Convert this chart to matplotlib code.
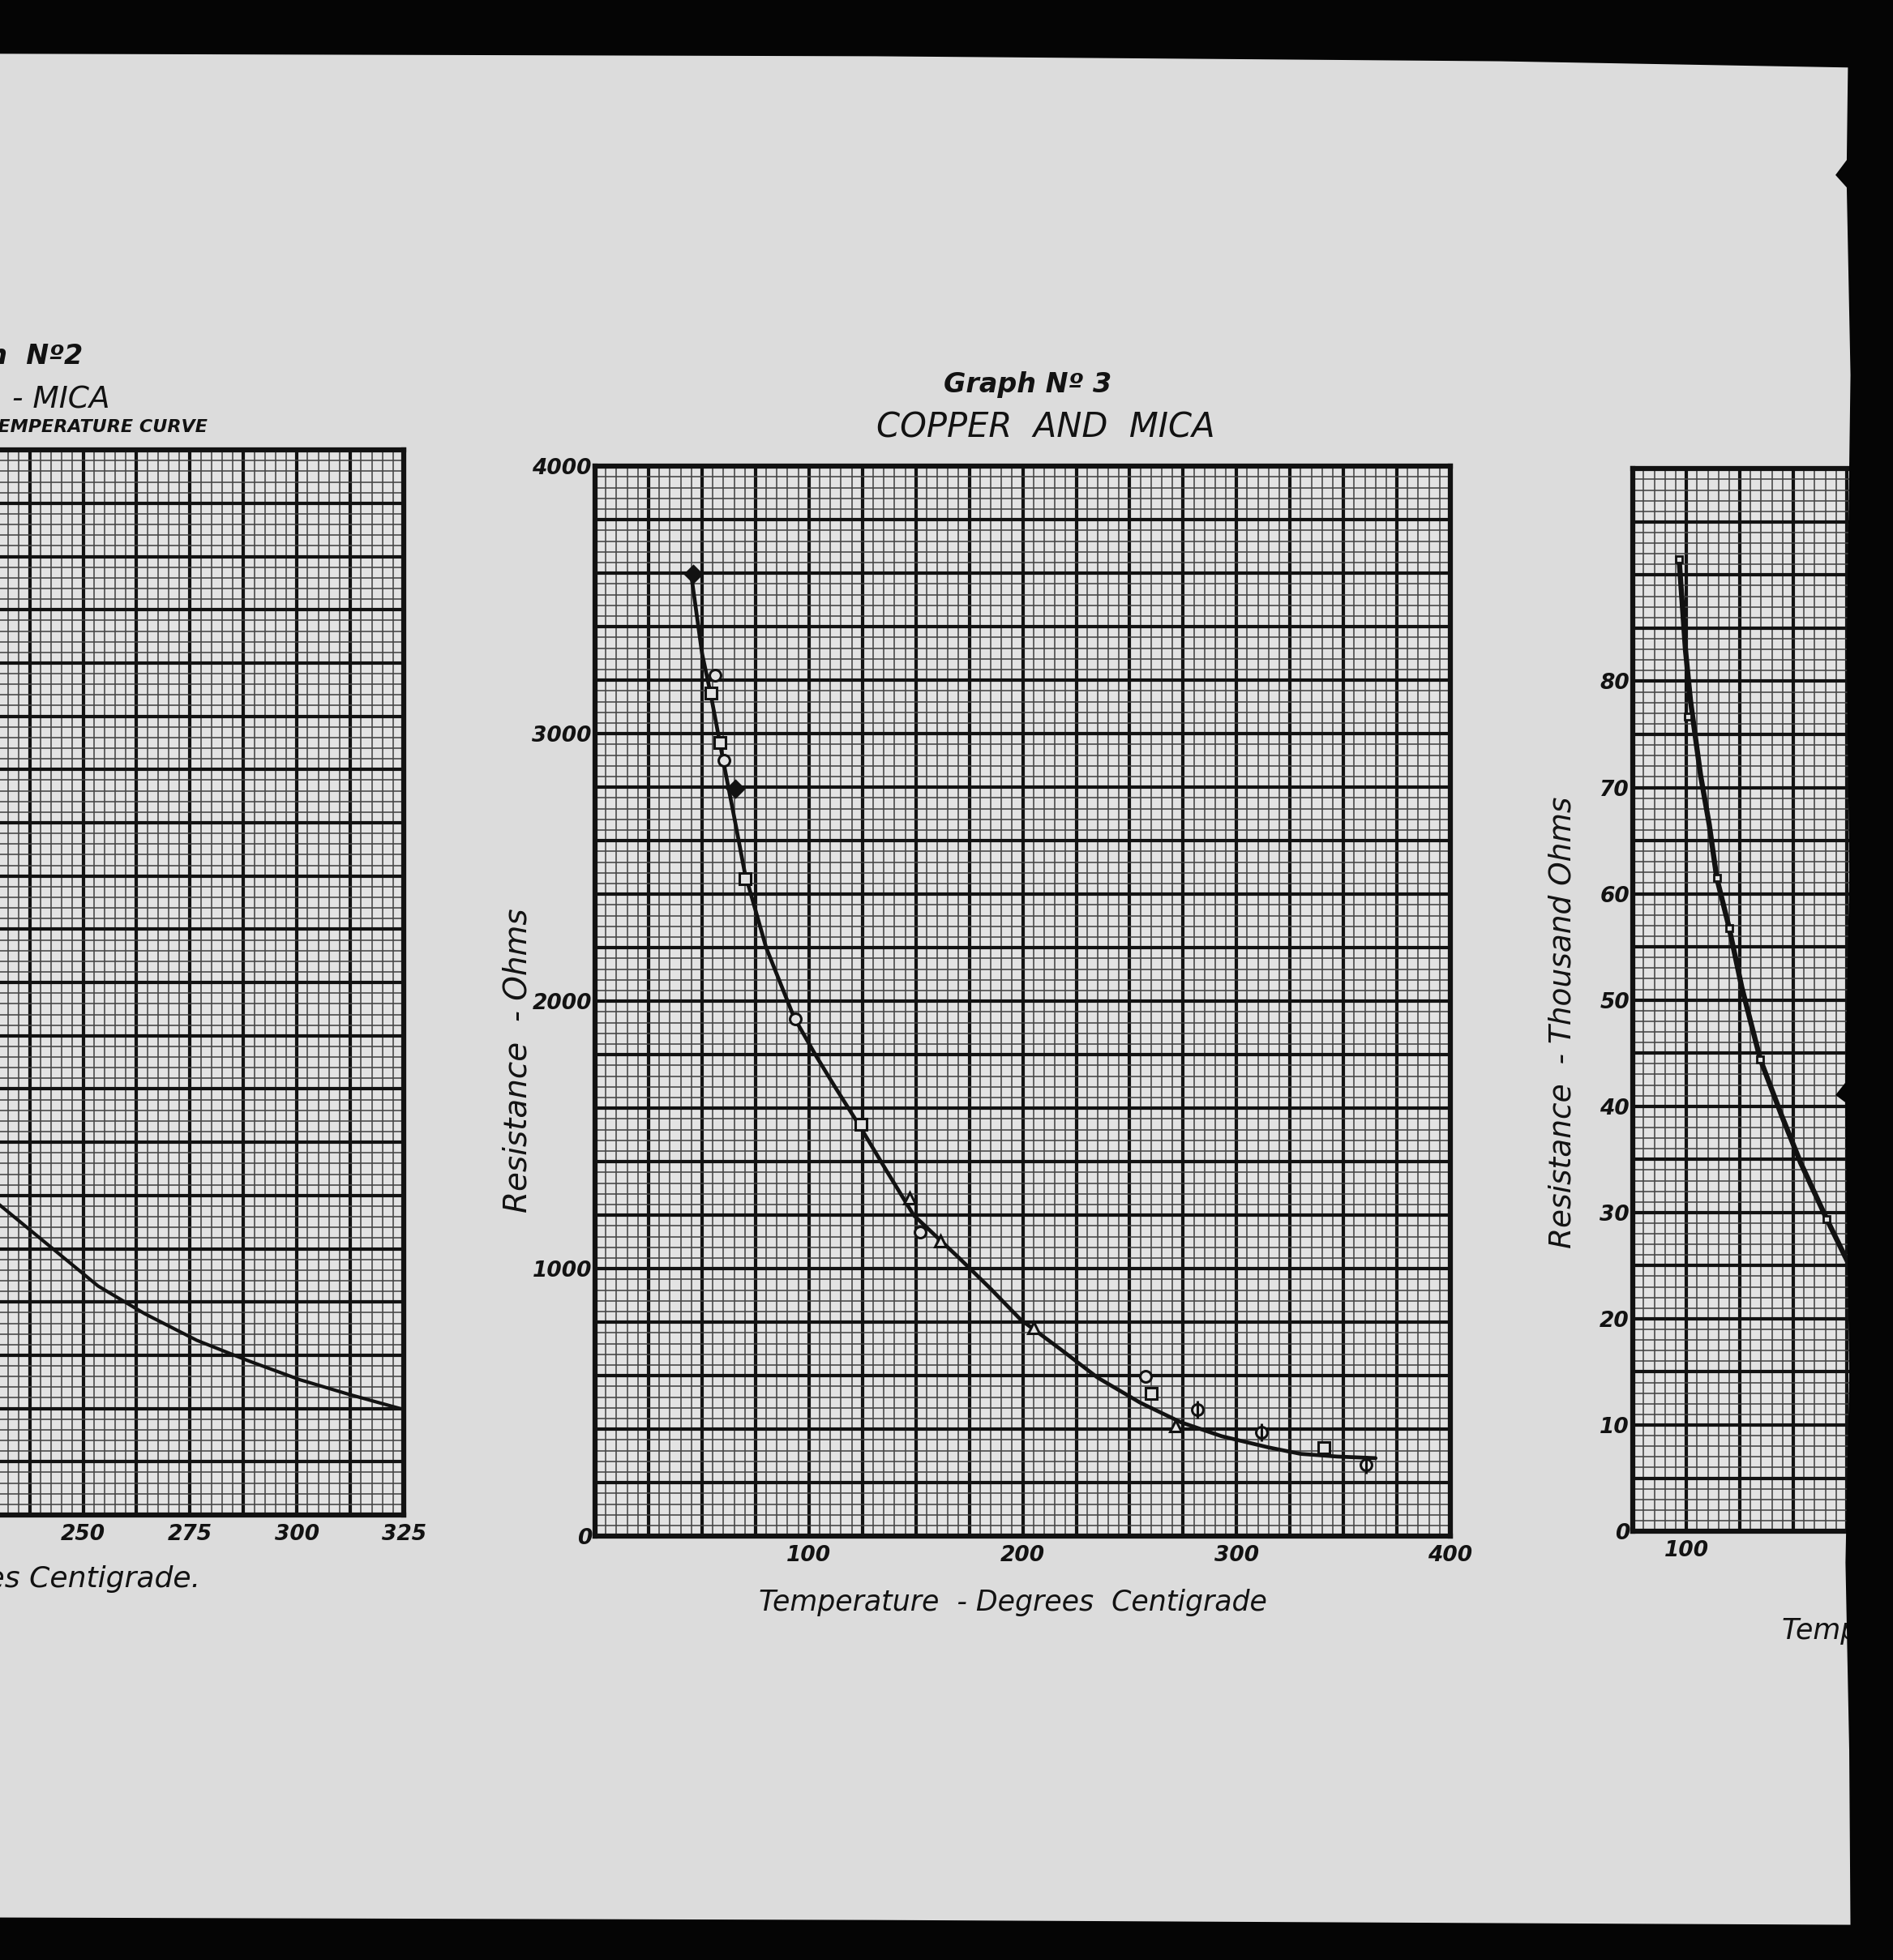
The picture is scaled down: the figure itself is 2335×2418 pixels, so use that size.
import numpy as np
import matplotlib
matplotlib.use("Agg")
import matplotlib.pyplot as plt
from matplotlib.ticker import MultipleLocator, FuncFormatter
from matplotlib.patches import Polygon

# positions below were measured on the 1514 x 1568 reduced copy of the scan
SW, SH = 1514, 1568

# ---------------- data ----------------
# Graph No 2 (only its right part is on the page)
g2_temp = [229, 241.7, 253.5, 264.4, 276.6, 288.5, 300.7, 312.4, 325]
g2_res = [29.6, 25.4, 21.5, 18.9, 16.4, 14.5, 12.7, 11.3, 9.9]
g2_xlabels = [225, 250, 275, 300, 325]

# Graph No 3 - copper and mica, resistance in ohms
g3_curve_temp = [45, 50, 54, 60, 65, 70, 80, 93, 103, 112, 124, 136, 149,
                 170, 185, 199, 218, 235, 255, 274, 293, 315, 330, 347, 365]
g3_curve_res = [3590, 3300, 3150, 2895, 2690, 2480, 2200, 1940, 1800, 1682,
                1530, 1370, 1200, 1042, 925, 810, 697, 593, 499, 426, 374,
                332, 308, 298, 292]
g3_diamond_t = [45.8, 65.7]
g3_diamond_r = [3598, 2795]
g3_square_t = [54, 58.5, 70.2, 124.2, 260, 341]
g3_square_r = [3152, 2966, 2458, 1541, 535, 331]
g3_circle_t = [56, 60.1, 93.6, 152, 257.6]
g3_circle_r = [3220, 2900, 1935, 1137, 598]
g3_tri_t = [147, 161.6, 205, 271.6]
g3_tri_r = [1263, 1105, 780, 414]
g3_theta_t = [281.8, 311.5, 360.6]
g3_theta_r = [472, 389, 268]
g3_xlabels = [100, 200, 300, 400]
g3_ylabels = [0, 1000, 2000, 3000, 4000]

# Graph No 4 (cut by the edge of the page), thousand ohms
g4_curve_temp = [96.6, 99.6, 101.9, 106.6, 110.7, 114.2, 120, 125.9, 134.6,
                 144.6, 153.4, 165.6, 175.6]
g4_curve_res = [91.5, 82.9, 78.2, 71.2, 66.5, 61.5, 56.8, 51.2, 44.4, 39.1,
                34.7, 29.4, 25.3]
g4_mark_t = [96.6, 100.7, 114.2, 120, 134.6, 165.6]
g4_mark_r = [91.5, 76.7, 61.5, 56.8, 44.4, 29.4]
g4_xlabels = [100]
g4_ylabels = [0, 10, 20, 30, 40, 50, 60, 70, 80]

PAGE = "#dcdcdc"
PAPER = "#e3e3e3"
INK = "#121212"

plt.rcParams["font.family"] = ["DejaVu Sans"]
plt.rcParams["font.style"] = "italic"
plt.rcParams["font.weight"] = "bold"

fig = plt.figure(figsize=(23.35, 24.18), dpi=100, facecolor=PAGE)


def rect(left, top, right, bottom):
    return [left / SW, 1 - bottom / SH, (right - left) / SW, (bottom - top) / SH]


def fx(x):
    return x / SW


def fy(y):
    return 1 - y / SH


def label_fmt(values, fmt="{:.0f}"):
    def f(v, pos):
        for w in values:
            if abs(v - w) < 1e-6:
                return fmt.format(w)
        return ""
    return FuncFormatter(f)


def graph_paper(ax, xlim, xstep, ylim, ystep, xlabels, ylabels):
    ax.set_facecolor(PAPER)
    ax.set_xlim(*xlim)
    ax.set_ylim(*ylim)
    ax.xaxis.set_major_locator(MultipleLocator(xstep))
    ax.xaxis.set_minor_locator(MultipleLocator(xstep / 5))
    ax.yaxis.set_major_locator(MultipleLocator(ystep))
    ax.yaxis.set_minor_locator(MultipleLocator(ystep / 5))
    ax.grid(which="minor", color="#454545", lw=1.15)
    ax.grid(which="major", color=INK, lw=3.0)
    ax.set_axisbelow(True)
    ax.xaxis.set_major_formatter(label_fmt(xlabels))
    ax.yaxis.set_major_formatter(label_fmt(ylabels))
    ax.tick_params(which="both", length=0, labelsize=19, colors=INK)
    ax.tick_params(axis="x", pad=8)
    ax.tick_params(axis="y", pad=3)
    for s in ax.spines.values():
        s.set_linewidth(4.5)
        s.set_color(INK)


# ---------------- Graph No 2 ----------------
ax2 = fig.add_axes(rect(323 - 684, 360, 323, 1212))
graph_paper(ax2, (125, 325), 12.5, (0, 100), 5, g2_xlabels, [])
ax2.plot(g2_temp, g2_res, color=INK, lw=3.0, solid_capstyle="round")

fig.text(fx(66), fy(285), "Graph  Nº2", ha="right", va="center", fontsize=24, color=INK)
fig.text(fx(88), fy(320), "- MICA", ha="right", va="center", fontsize=27,
         weight="normal", color=INK)
fig.text(fx(166), fy(342), "RESISTANCE - TEMPERATURE CURVE", ha="right", va="center",
         fontsize=16, color=INK)
fig.text(fx(160), fy(1263), "Temperature - Degrees Centigrade.", ha="right", va="center",
         fontsize=26, weight="normal", color=INK)

# ---------------- Graph No 3 ----------------
ax3 = fig.add_axes(rect(476, 373, 1160, 1229))
graph_paper(ax3, (0, 400), 25, (0, 4000), 200, g3_xlabels, g3_ylabels)
ax3.plot(g3_curve_temp, g3_curve_res, color=INK, lw=3.4, solid_capstyle="round", zorder=3)
mk = dict(ls="none", color=INK, ms=10, mew=2.2, zorder=4)
ax3.plot(g3_diamond_t, g3_diamond_r, marker="D", mfc=INK, **mk)
ax3.plot(g3_square_t, g3_square_r, marker="s", mfc=PAPER, **mk)
ax3.plot(g3_circle_t, g3_circle_r, marker="o", mfc=PAPER, **mk)
ax3.plot(g3_tri_t, g3_tri_r, marker="^", mfc=PAPER, **mk)
ax3.plot(g3_theta_t, g3_theta_r, marker="o", mfc=PAPER, **mk)
ax3.plot(g3_theta_t, g3_theta_r, marker="|", ls="none", color=INK, ms=16, mew=2.2, zorder=5)

fig.text(fx(822), fy(308), "Graph Nº 3", ha="center", va="center", fontsize=24, color=INK)
fig.text(fx(836), fy(342), "COPPER  AND  MICA", ha="center", va="center", fontsize=30,
         weight="normal", color=INK)
fig.text(fx(414), fy(848), "Resistance  - Ohms", rotation=90, ha="center", va="center",
         fontsize=28, weight="normal", color=INK)
fig.text(fx(810), fy(1282), "Temperature  - Degrees  Centigrade", ha="center", va="center",
         fontsize=25, weight="normal", color=INK)

# ---------------- Graph No 4 ----------------
ax4 = fig.add_axes(rect(1306, 375, 1306 + 684, 1225))
graph_paper(ax4, (75, 475), 25, (0, 100), 5, g4_xlabels, g4_ylabels)
ax4.plot(g4_curve_temp, g4_curve_res, color=INK, lw=4.6, solid_capstyle="round", zorder=3)
ax4.plot(g4_mark_t, g4_mark_r, marker="s", ls="none", color=INK, mfc=PAPER, ms=6, mew=2.0,
         zorder=4)

fig.text(fx(1250), fy(818), "Resistance  - Thousand Ohms", rotation=90, ha="center",
         va="center", fontsize=27, weight="normal", color=INK)
fig.text(fx(1425), fy(1305), "Temperature  - Degrees  Centigrade", ha="left", va="center",
         fontsize=25, weight="normal", color=INK)

# ---------------- dark surround of the scanned sheet ----------------
def black(points):
    pts = [(fx(x), fy(y)) for x, y in points]
    fig.add_artist(Polygon(pts, closed=True, transform=fig.transFigure,
                           fc="#050505", ec="none", zorder=50))


black([(0, 0), (1514, 0), (1514, 56), (1478, 54), (1200, 49), (700, 45), (0, 43)])
black([(0, 1534), (700, 1536), (1300, 1539), (1514, 1540), (1514, 1568), (0, 1568)])
black([(1478, 50), (1514, 50), (1514, 1545), (1480, 1545), (1479, 1400), (1476, 1250),
       (1479, 1100), (1477, 960), (1476, 882), (1468, 876), (1476, 866), (1479, 700),
       (1477, 520), (1480, 300), (1477, 150), (1468, 140), (1477, 128), (1478, 50)])

fig.savefig("out.png", dpi=100, facecolor=PAGE)
